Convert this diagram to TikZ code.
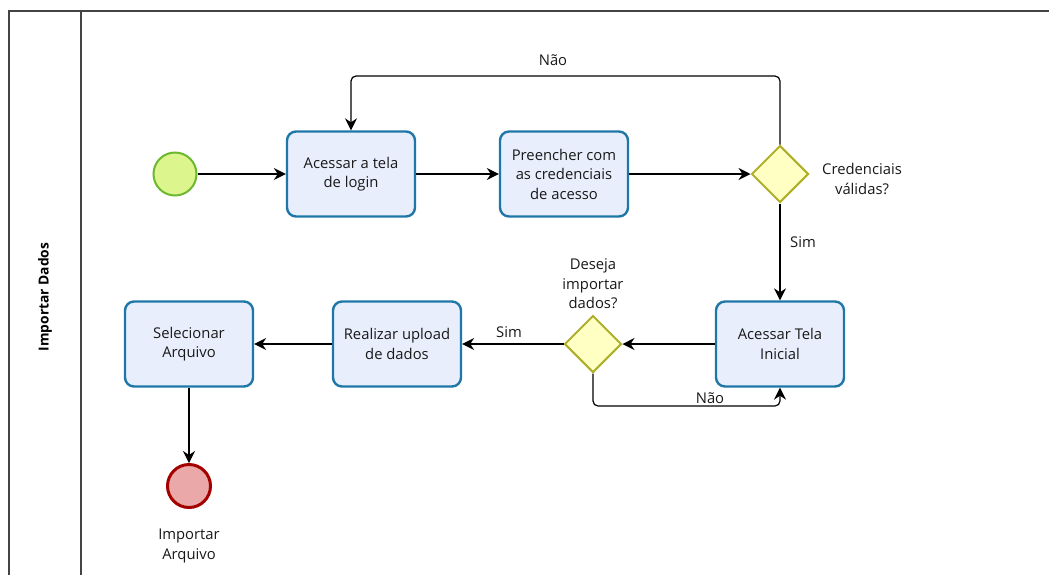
\documentclass[tikz,border=0pt]{standalone}
\usepackage{fontspec}
\setmainfont{Open Sans}
\usetikzlibrary{arrows.meta,shapes.geometric}
\definecolor{taskfill}{HTML}{E8EEFC}
\definecolor{taskline}{HTML}{1F77A8}
\definecolor{gwfill}{HTML}{FFFFC4}
\definecolor{gwline}{HTML}{AFAF2A}
\definecolor{startfill}{HTML}{DCF58C}
\definecolor{startline}{HTML}{6DB830}
\definecolor{endfill}{HTML}{EBA8A8}
\definecolor{endline}{HTML}{A50000}
\definecolor{poolline}{HTML}{444444}
\begin{document}
\begin{tikzpicture}[x=1pt,y=-1pt,
  txt/.style={font=\fontsize{14.8}{19.5}\selectfont, align=center, text=black!90},
  task/.style={txt, draw=taskline, fill=taskfill, line width=2.4pt, rounded corners=9pt,
    minimum width=128pt, minimum height=85pt, inner sep=1pt},
  gw/.style={diamond, draw=gwline, fill=gwfill, line width=2pt, minimum width=57pt,
    minimum height=57pt, inner sep=0pt},
  startev/.style={circle, draw=startline, fill=startfill, line width=2pt, minimum size=43pt, inner sep=0pt},
  endev/.style={circle, draw=endline, fill=endfill, line width=3pt, minimum size=43pt, inner sep=0pt},
  flow/.style={draw=black, line width=1.2pt, -{Stealth[length=12pt,width=12pt,inset=4pt]}, rounded corners=5pt},
  lbl/.style={txt, inner sep=1pt}
]
\useasboundingbox (0,0) rectangle (1049,574);
\clip (0,0) rectangle (1049,574);
\fill[white] (0,0) rectangle (1049,574);
% pool and lane
\draw[poolline, line width=1.5pt] (9,11) rectangle (1070,600);
\draw[poolline, line width=1.5pt] (81,11) -- (81,600);
\node[rotate=90, font=\bfseries\fontsize{13.8}{16}\selectfont] (pool) at (45,297) {Importar Dados};

% nodes
\node[startev] (start) at (175,174) {};
\node[task] (t1) at (351,174) {Acessar a tela\\de login};
\node[task] (t2) at (564,174) {Preencher com\\as credenciais\\de acesso};
\node[gw] (g1) at (780,174) {};
\node[lbl] (g1l) at (862,179) {Credenciais\\válidas?};
\node[task] (t3) at (780,344) {Acessar Tela\\Inicial};
\node[gw] (g2) at (593,344) {};
\node[lbl] (g2l) at (593,284) {Deseja\\importar\\dados?};
\node[task] (t4) at (397,344) {Realizar upload\\de dados};
\node[task] (t5) at (189,344) {Selecionar\\Arquivo};
\node[endev] (end) at (189,486) {};
\node[lbl] (endl) at (189,546) {Importar\\Arquivo};

% flows
\draw[flow] (start) -- (t1);
\draw[flow] (t1) -- (t2);
\draw[flow] (t2) -- (g1);
\coordinate (loopy) at (0,76);
\draw[flow] (g1.north) -- (g1.north |- loopy) -| (t1.north);
\node[lbl] (nao1) at (553,60) {Não};
\draw[flow] (g1.south) -- (t3.north);
\node[lbl] (sim1) at (803,242) {Sim};
\draw[flow] (t3) -- (g2);
\draw[flow] (g2) -- (t4);
\node[lbl] (sim2) at (509,332) {Sim};
\coordinate (loopy2) at (0,406);
\draw[flow] (g2.south) -- (g2.south |- loopy2) -| (t3.south);
\node[lbl] (nao2) at (710,398) {Não};
\draw[flow] (t4) -- (t5);
\draw[flow] (t5) -- (end);
\end{tikzpicture}
\end{document}
